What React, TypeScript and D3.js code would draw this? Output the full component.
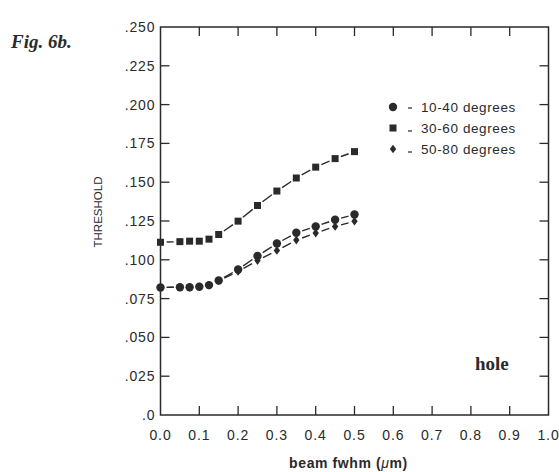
import React from "react";
import * as d3 from "d3";

const beamFwhm = [0, 0.05, 0.075, 0.1, 0.125, 0.15, 0.2, 0.25, 0.3, 0.35, 0.4, 0.45, 0.5];
const deg10to40 = [0.0822, 0.0823, 0.0823, 0.0826, 0.0837, 0.0867, 0.0938, 0.1025, 0.1105, 0.1174, 0.1215, 0.1258, 0.1292];
const deg30to60 = [0.1113, 0.1117, 0.112, 0.112, 0.1133, 0.1163, 0.1249, 0.1350, 0.1443, 0.1527, 0.1597, 0.1652, 0.1697];
const deg50to80 = [0.0822, 0.0823, 0.0823, 0.0826, 0.0836, 0.0865, 0.0925, 0.0995, 0.106, 0.1127, 0.1172, 0.1215, 0.1248];
const seriesNames = ["10-40 degrees", "30-60 degrees", "50-80 degrees"];
const xTicks = [0, 0.1, 0.2, 0.3, 0.4, 0.5, 0.6, 0.7, 0.8, 0.9, 1.0];
const yTicks = [0, 0.025, 0.05, 0.075, 0.1, 0.125, 0.15, 0.175, 0.2, 0.225, 0.25];
const yTickLabels = [".0", ".025", ".050", ".075", ".100", ".125", ".150", ".175", ".200", ".225", ".250"];

const L = 160.5, R = 548.5, T = 27, B = 415;
const ink = "#2a2a2a";

function Marker({ kind, x, y }: { kind: string; x: number; y: number }) {
  if (kind === "circle") return <circle cx={x} cy={y} r={4.2} fill={ink} />;
  if (kind === "square") return <rect x={x - 3.5} y={y - 3.5} width={7} height={7} fill={ink} />;
  return (
    <path
      d={`M${x},${y - 4.3} L${x + 3.2},${y} L${x},${y + 4.3} L${x - 3.2},${y} Z`}
      fill={ink}
    />
  );
}

export default function App() {
  const x = d3.scaleLinear().domain([0, 1]).range([L, R]);
  const y = d3.scaleLinear().domain([0, 0.25]).range([B, T]);
  const series = [
    { kind: "circle", vals: deg10to40 },
    { kind: "square", vals: deg30to60 },
    { kind: "diamond", vals: deg50to80 },
  ];
  const gap = 6.2;
  const tickLen = 9;
  const font = "'Liberation Sans', Arial, sans-serif";
  return (
    <svg width={559} height={472} style={{ position: "absolute", left: 0, top: 0, background: "#fff" }}>
      <rect x={0} y={0} width={559} height={472} fill="#fff" />
      <text x={11} y={48} fontFamily="'Liberation Serif', 'Times New Roman', serif" fontWeight="bold" fontStyle="italic" fontSize={19} fill={ink}>
        Fig. 6b.
      </text>
      <rect x={L} y={T} width={R - L} height={B - T} fill="none" stroke={ink} strokeWidth={1.5} />
      {xTicks.map((t, i) => (
        <g key={"xt" + i}>
          {i > 0 && i < xTicks.length - 1 && (
            <>
              <line x1={x(t)} x2={x(t)} y1={B} y2={B - tickLen} stroke={ink} strokeWidth={1.3} />
              <line x1={x(t)} x2={x(t)} y1={T} y2={T + tickLen} stroke={ink} strokeWidth={1.3} />
            </>
          )}
          <text x={x(t)} y={B + 25} textAnchor="middle" fontFamily={font} fontSize={14} letterSpacing={0.9} fill={ink}>
            {t.toFixed(1)}
          </text>
        </g>
      ))}
      {yTicks.map((t, i) => (
        <g key={"yt" + i}>
          {i > 0 && i < yTicks.length - 1 && (
            <>
              <line x1={L} x2={L + tickLen} y1={y(t)} y2={y(t)} stroke={ink} strokeWidth={1.3} />
              <line x1={R} x2={R - tickLen} y1={y(t)} y2={y(t)} stroke={ink} strokeWidth={1.3} />
            </>
          )}
          <text x={L - 5} y={y(t) + 5} textAnchor="end" fontFamily={font} fontSize={14} letterSpacing={0.9} fill={ink}>
            {yTickLabels[i]}
          </text>
        </g>
      ))}
      {series.map((s, si) => {
        const pts = beamFwhm.map((v, i) => [x(v), y(s.vals[i])] as [number, number]);
        return (
          <g key={"s" + si}>
            {pts.slice(1).map((p, i) => {
              const a = pts[i];
              const dx = p[0] - a[0], dy = p[1] - a[1];
              const len = Math.hypot(dx, dy);
              if (len < gap * 2 + 1) return null;
              const ux = dx / len, uy = dy / len;
              return (
                <line
                  key={i}
                  x1={a[0] + ux * gap}
                  y1={a[1] + uy * gap}
                  x2={p[0] - ux * gap}
                  y2={p[1] - uy * gap}
                  stroke={ink}
                  strokeWidth={1.4}
                />
              );
            })}
            {pts.map((p, i) => (
              <Marker key={i} kind={s.kind} x={p[0]} y={p[1]} />
            ))}
          </g>
        );
      })}
      {series.map((s, i) => {
        const ly = 107 + i * 21;
        return (
          <g key={"lg" + i}>
            <Marker kind={s.kind} x={393} y={ly} />
            <line x1={408} x2={412} y1={ly + (i === 0 ? 1 : 3)} y2={ly + (i === 0 ? 1 : 3)} stroke={ink} strokeWidth={1.2} />
            <text x={421} y={ly + 5} fontFamily={font} fontSize={13.5} letterSpacing={0.6} fill={ink}>
              {seriesNames[i]}
            </text>
          </g>
        );
      })}
      <text x={475} y={370} fontFamily="'Liberation Serif', 'Times New Roman', serif" fontWeight="bold" fontSize={19} fill={ink}>
        hole
      </text>
      <text x={(L + R) / 2 - 6} y={468} textAnchor="middle" fontFamily={font} fontWeight="bold" fontSize={14} letterSpacing={0.6} fill={ink}>
        beam fwhm (<tspan fontWeight="normal" fontStyle="italic">μ</tspan>m)
      </text>
      <text
        transform={`translate(102,212) rotate(-90)`}
        textAnchor="middle"
        fontFamily={font}
        fontSize={11.5}
        fill={ink}
      >
        THRESHOLD
      </text>
    </svg>
  );
}
